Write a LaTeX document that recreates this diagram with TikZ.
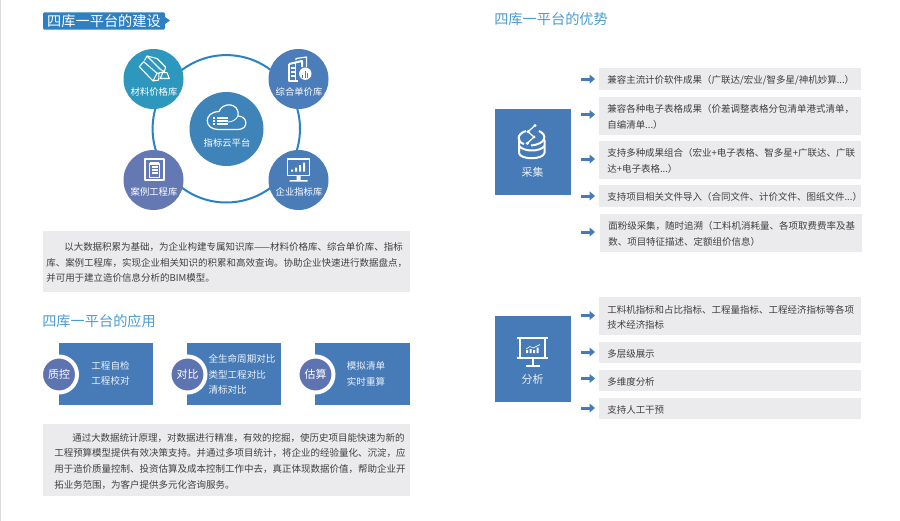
\documentclass[tikz,border=0pt]{standalone}
\usepackage{fontspec}
\setmainfont{Noto Sans CJK SC}
\usetikzlibrary{arrows.meta}
\definecolor{tagblue}{RGB}{46,128,193}
\definecolor{headblue}{RGB}{74,155,210}
\definecolor{ringblue}{RGB}{42,130,196}
\definecolor{boxblue}{RGB}{71,123,184}
\definecolor{boxgray}{RGB}{235,235,237}
\definecolor{purpleblue}{RGB}{94,116,176}
\definecolor{txtgray}{RGB}{64,64,64}
\tikzset{
  bodytxt/.style={font=\fontsize{7.12}{11.7}\selectfont,text=txtgray,align=left,
    execute at begin node={\rule{0pt}{7.8pt}}},
  para/.style={bodytxt,fill=boxgray,anchor=west,inner ysep=0pt},
  item/.style={bodytxt,fill=boxgray,anchor=west,inner xsep=6pt,inner ysep=0pt,text width=184.5pt},
  heading/.style={font=\fontsize{10.65}{12}\selectfont,text=headblue,anchor=west,inner sep=0pt},
  hub/.style={circle,inner sep=0pt,minimum size=45pt},
  hublabel/.style={font=\fontsize{7}{9}\selectfont,text=white,inner sep=0pt},
  block/.style={fill=boxblue,inner sep=0pt,anchor=north west},
  blocktxt/.style={font=\fontsize{7.16}{11.7}\selectfont,text=white!90!boxblue,align=left,inner sep=0pt},
  badge/.style={circle,fill=purpleblue,draw=white,line width=3pt,minimum size=27pt,inner sep=0pt,
    font=\fontsize{8.2}{10}\selectfont,text=white},
  sidebox/.style={fill=boxblue,inner sep=0pt,minimum width=57pt,minimum height=64pt,anchor=north west},
  sidelabel/.style={font=\fontsize{8.2}{10}\selectfont,text=white!90!boxblue,inner sep=0pt},
  itemarrow/.style={draw=boxblue,line width=2.25pt,shorten >=3pt,-{Triangle[length=4pt,width=6.5pt]}},
  icon/.style={draw=white,line width=0.9pt,line join=round},
  iconthick/.style={draw=white,line width=1.5pt,line join=round}
}
\begin{document}
\begin{tikzpicture}[x=0.75pt,y=0.75pt,yscale=-1,xscale=1]
\useasboundingbox (0,0) rectangle (900,521);
% left edge
\fill [black!15] (0,0) rectangle (1,521);

% Header tag
\fill [tagblue] (165,17) -- (170,20.5) -- (165,24) -- cycle;
\node (tagBuild) [fill=tagblue,rounded corners=0.8pt,minimum width=91.5pt,minimum height=12.8pt,inner sep=0pt,
  font=\fontsize{10.65}{12}\selectfont,text=white] at (104,21) {四库一平台的建设};

% Ring and hubs
\draw [ringblue,line width=1.5pt] (226.3,128.8) circle [radius=73.7];
\node (hubMat) [hub,fill={rgb,255:red,46;green,151;blue,189}] at (153.5,79) {};
\node (hubUnit) [hub,fill={rgb,255:red,74;green,125;blue,186}] at (298.5,79) {};
\node (hubCase) [hub,fill={rgb,255:red,100;green,121;blue,179}] at (153.5,180) {};
\node (hubIndex) [hub,fill={rgb,255:red,74;green,125;blue,184}] at (298.5,180) {};
\node (hubCloud) [circle,inner sep=0pt,minimum size=55.5pt,fill={rgb,255:red,63;green,132;blue,184}] at (226.5,129) {};
\node (lblMat) [hublabel] at (154,91.5) {材料价格库};
\node (lblUnit) [hublabel] at (299,91.5) {综合单价库};
\node (lblCase) [hublabel] at (154,191.5) {案例工程库};
\node (lblIndex) [hublabel] at (299,192) {企业指标库};
\node (lblCloud) [hublabel] at (227,143) {指标云平台};

% Icon: bars
\draw [icon,line width=0.8pt] (144.5,60.5) -- (147,56) -- (157,58.5) -- (165.5,67) -- (164.5,71.5) -- (159,73);
\draw [icon,line width=0.8pt] (147,56) -- (160.5,69.5) -- (164.5,71.5);
\draw [icon,line width=0.8pt] (143.7,61.7) -- (139.3,66.7) -- (153,81) -- (158.7,80) -- (159,73) -- (157,73.3) -- cycle;
\draw [icon,line width=0.8pt] (157,73.3) -- (153,81);
\draw [icon,line width=0.8pt] (160.3,78.5) -- (162.7,72.7) -- (167,72.7) -- (169.3,78.5) -- cycle;
% Icon: building
\draw [iconthick] (289,64) -- (302,61) -- (302,67);
\draw [iconthick] (289,64) -- (289,81) -- (298,81);
\draw [icon] (296,60) -- (296,58.5) -- (306.5,57) -- (306.5,67);
\draw [icon] (295.5,63) -- (295.5,81);
\draw [icon] (291,68) -- (294.5,68) (291,72) -- (294.5,72) (291,76) -- (294.5,76);
\fill [white] (305.3,73.7) circle [radius=6.2];
\draw [draw={rgb,255:red,74;green,125;blue,186},line width=1pt] (302.8,77.5) -- (302.8,75) (305.3,77.5) -- (305.3,70.5) (307.8,77.5) -- (307.8,73);
% Icon: cloud
\draw [icon] (218,129.5) .. controls (204,129.5) and (203,112) .. (219,111.5) .. controls (222,102) and (240,102) .. (238,116)
  .. controls (248,116) and (249,129.5) .. (238,129.5) -- cycle;
\draw [icon,line width=0.6pt] (238,116) .. controls (236,120) and (232,122) .. (228,122);
\draw [iconthick,line width=1.3pt] (217,118) -- (228,118) (217,121) -- (228,121) (217,124) -- (228,124);
\draw [icon] (213,118) -- (215,118) (213,121) -- (215,121) (213,124) -- (215,124);
% Icon: clipboard
\draw [iconthick] (145,158.5) rectangle (164,180);
\draw [icon] (149.5,164) rectangle (159.5,177.5);
\draw [iconthick] (150,162.5) -- (159,162.5);
\draw [icon] (151.5,167) -- (157.5,167) (151.5,170) -- (157.5,170) (151.5,173) -- (157.5,173);
% Icon: monitor
\draw [icon] (287.5,159) rectangle (309.5,175.5);
\fill [white] (291,169.5) rectangle (293,171.5) (295,167.5) rectangle (297,171.5) (299,165) rectangle (301,171.5) (303,162.5) rectangle (305,171.5);
\fill [white] (296.5,176) rectangle (300.5,180) (289.5,180) rectangle (307.5,181.5);

% Para one
\node (paraBase) [para,minimum height=45.75pt,inner xsep=2.25pt,text width=270.75pt] at (43,261.5) {\hspace*{13.5pt}以大数据积累为基础，为企业构建专属知识库——材料价格库、综合单价库、指标\\库、案例工程库，实现企业相关知识的积累和高效查询。协助企业快速进行数据盘点，\\并可用于建立造价信息分析的BIM模型。};

% Apply section
\node (headApply) [heading] at (42,321.5) {四库一平台的应用};
\node (blkCheck) [block,minimum width=70.5pt,minimum height=46.5pt] at (59,343) {};
\node (blkCompare) [block,minimum width=70.5pt,minimum height=46.5pt] at (187,343) {};
\node (blkEstimate) [block,minimum width=71.25pt,minimum height=46.5pt] at (315,343) {};
\node (bdgCheck) [badge] at (59,374.5) {质控};
\node (bdgCompare) [badge] at (187.5,374.5) {对比};
\node (bdgEstimate) [badge] at (315.5,374.5) {估算};
\node (txtCheck) [blocktxt] at (110.5,373.5) {工程自检\\工程校对};
\node (txtCompare) [blocktxt] at (242,374.5) {全生命周期对比\\类型工程对比\\清标对比};
\node (txtEstimate) [blocktxt] at (366,374) {模拟清单\\实时重算};

% Para two
\node (paraApply) [para,minimum height=54pt,inner xsep=8.25pt,text width=258.75pt] at (43,460) {\hspace*{13.5pt}通过大数据统计原理，对数据进行精准，有效的挖掘，使历史项目能快速为新的\\工程预算模型提供有效决策支持。并通过多项目统计，将企业的经验量化、沉淀，应\\用于造价质量控制、投资估算及成本控制工作中去，真正体现数据价值，帮助企业开\\拓业务范围，为客户提供多元化咨询服务。};

% Right side
\node (headAdv) [heading] at (494,19) {四库一平台的优势};

% Collect
\node (boxCollect) [sidebox] at (495,109) {};
\node (lblCollect) [sidelabel] at (532.5,172.5) {采集};
\draw [iconthick] (526,131) .. controls (516,134) and (517,142) .. (524,144);
\draw [iconthick] (539,131) .. controls (548,135) and (546,144) .. (531,145.5);
\draw [iconthick] (519,140) -- (519,153) .. controls (520,160) and (543,160) .. (544.5,153) -- (544.5,140);
\draw [iconthick] (519,146) .. controls (524,152) and (540,152) .. (544.5,146);
\draw [icon] (535,125.5) -- (528,131.7) -- (534,137) -- (527.3,143.3);
\fill [white] (535,125.5) circle [radius=1.7] (528,131.7) circle [radius=1.7] (534,137) circle [radius=1.7] (527.3,143.3) circle [radius=1.7];

\node (itemA) [item,minimum height=16.5pt] at (599,79) {兼容主流计价软件成果（广联达/宏业/智多星/神机妙算...）};
\node (itemB) [item,minimum height=28.5pt] at (599,115.5) {兼容各种电子表格成果（价差调整表格分包清单港式清单，\\自编清单...）};
\node (itemC) [item,minimum height=28.5pt] at (599,160) {支持多种成果组合（宏业+电子表格、智多星+广联达、广联\\达+电子表格...）};
\node (itemD) [item,minimum height=16.5pt] at (599,196) {支持项目相关文件导入（合同文件、计价文件、图纸文件...）};
\node (itemE) [item,minimum height=28.5pt] at (600,233) {面粉级采集，随时追溯（工料机消耗量、各项取费费率及基\\数、项目特征描述、定额组价信息）};
\coordinate (tailA) at (581,79);
\coordinate (tailB) at (581,114.5);
\coordinate (tailC) at (581,159);
\coordinate (tailD) at (581,196);
\coordinate (tailE) at (581,232);
\draw [itemarrow] (tailA) -- (tailA -| itemA.west);
\draw [itemarrow] (tailB) -- (tailB -| itemB.west);
\draw [itemarrow] (tailC) -- (tailC -| itemC.west);
\draw [itemarrow] (tailD) -- (tailD -| itemD.west);
\draw [itemarrow] (tailE) -- (tailE -| itemA.west);

% Analyse
\node (boxAnalyse) [sidebox] at (495,316) {};
\node (lblAnalyse) [sidelabel] at (532.5,379.5) {分析};
\draw [iconthick] (517,337.5) -- (548,337.5);
\draw [iconthick] (520,338) -- (520,357.5) -- (545,357.5) -- (545,338);
\draw [iconthick] (517,357.5) -- (548,357.5);
\draw [iconthick] (532.5,358) -- (532.5,365);
\draw [iconthick] (525.5,366) -- (539.5,366);
\draw [icon,line width=0.5pt] (526,349) -- (530,346.5) -- (533,348) -- (540,344.5);
\fill [white] (526,350) rectangle (528,353) (529.5,349) rectangle (531.5,353) (533,350) rectangle (535,353) (536.5,347.5) rectangle (538.5,353);

\node (itemF) [item,minimum height=28.5pt] at (599,316) {工料机指标和占比指标、工程量指标、工程经济指标等各项\\技术经济指标};
\node (itemG) [item,minimum height=16pt] at (599,352.5) {多层级展示};
\node (itemH) [item,minimum height=16pt] at (599,380.5) {多维度分析};
\node (itemI) [item,minimum height=16pt] at (599,408.5) {支持人工干预};
\coordinate (tailF) at (581,315.5);
\coordinate (tailG) at (581,352);
\coordinate (tailH) at (581,378.5);
\coordinate (tailI) at (581,408);
\draw [itemarrow] (tailF) -- (tailF -| itemF.west);
\draw [itemarrow] (tailG) -- (tailG -| itemG.west);
\draw [itemarrow] (tailH) -- (tailH -| itemH.west);
\draw [itemarrow] (tailI) -- (tailI -| itemI.west);
\end{tikzpicture}
\end{document}
